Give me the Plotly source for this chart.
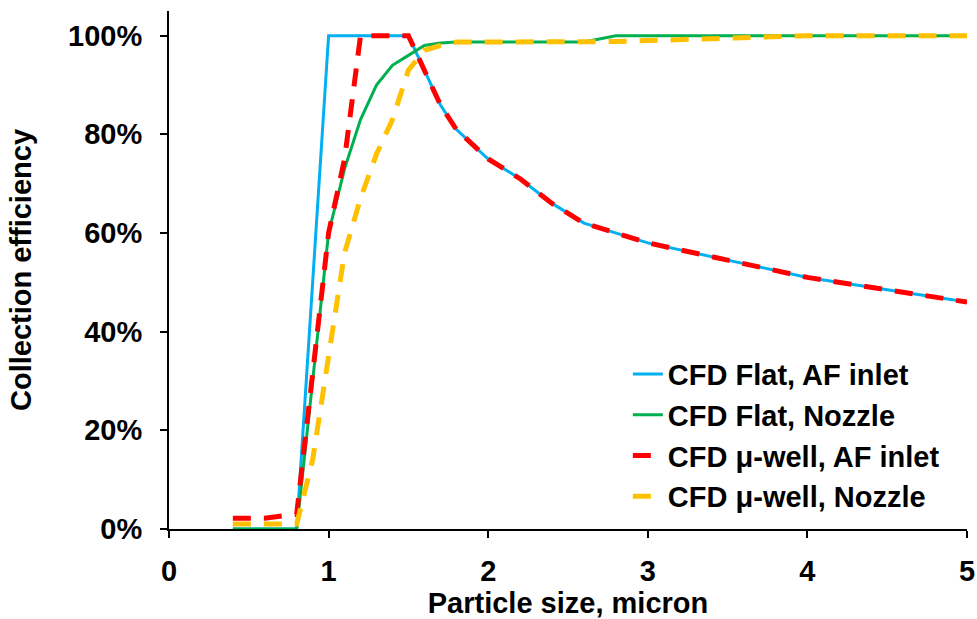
import plotly.graph_objects as go

# Particle size (micron)
x_size = [0.4, 0.6, 0.8, 0.9, 1.0, 1.1, 1.2, 1.3, 1.4, 1.5, 1.6, 1.7, 1.8,
          2.0, 2.2, 2.4, 2.6, 2.8, 3.0, 3.5, 4.0, 4.5, 5.0]

flat_af = [0, 0, 0, 0.50, 1.0, 1.0, 1.0, 1.0, 1.0, 1.0, 0.93, 0.86, 0.81,
           0.75, 0.71, 0.66, 0.62, 0.60, 0.58, 0.545, 0.51, 0.485, 0.46]
flat_nozzle = [0, 0, 0, 0.30, 0.60, 0.73, 0.83, 0.90, 0.94, 0.96, 0.98, 0.985, 0.987,
               0.987, 0.987, 0.987, 0.987, 1.0, 1.0, 1.0, 1.0, 1.0, 1.0]
well_af = [0.022, 0.022, 0.03, 0.315, 0.60, 0.75, 1.0, 1.0, 1.0, 1.0, 0.93, 0.86, 0.81,
           0.75, 0.71, 0.66, 0.62, 0.60, 0.58, 0.545, 0.51, 0.485, 0.46]
well_nozzle = [0.01, 0.01, 0.01, 0.14, 0.35, 0.56, 0.67, 0.76, 0.83, 0.93, 0.97, 0.98, 0.987,
               0.987, 0.987, 0.987, 0.987, 0.988, 0.99, 0.995, 1.0, 1.0, 1.0]

names = ["CFD Flat, AF inlet", "CFD Flat, Nozzle", "CFD μ-well, AF inlet", "CFD μ-well, Nozzle"]
colors = ["#00B0F0", "#00B050", "#FF0000", "#FFC000"]
series = [flat_af, flat_nozzle, well_af, well_nozzle]
widths = [3, 3, 5, 5]
dashes = ["solid", "solid", "18px,13px", "18px,13px"]

FONT = "Liberation Sans, Arial, sans-serif"

fig = go.Figure()
for i, (n, c, s, w, d) in enumerate(zip(names, colors, series, widths, dashes)):
    fig.add_trace(go.Scatter(
        x=x_size, y=s, mode="lines", name=n, legendgroup=f"g{i}",
        line=dict(color=c, width=w, dash=d),
    ))

fig.update_layout(
    width=977, height=619,
    margin=dict(l=169, r=10, t=11, b=90),
    paper_bgcolor="white", plot_bgcolor="white",
    font=dict(family=FONT, size=29, color="black", weight="bold"),
    showlegend=True,
    legend=dict(
        x=0.575, y=0.348, xanchor="left", yanchor="top",
        bgcolor="rgba(0,0,0,0)", traceorder="grouped", tracegroupgap=0,
        font=dict(family=FONT, size=29, color="black", weight="bold"),
    ),
    xaxis=dict(
        range=[0, 5], tickvals=[0, 1, 2, 3, 4, 5], automargin=False,
        showline=True, linecolor="black", linewidth=2,
        ticks="outside", ticklen=7, tickwidth=2, tickcolor="black",
        showgrid=False, zeroline=False, ticklabelstandoff=8,
        title=dict(text="Particle size, micron", standoff=2,
                   font=dict(family=FONT, size=29, color="black", weight="bold")),
    ),
    yaxis=dict(
        range=[0, 1.05], tickvals=[0, 0.2, 0.4, 0.6, 0.8, 1.0], tickformat=".0%",
        automargin=False,
        showline=True, linecolor="black", linewidth=2,
        ticks="outside", ticklen=7, tickwidth=2, tickcolor="black",
        showgrid=False, zeroline=False, ticklabelstandoff=12,
        title=dict(text="Collection efficiency", standoff=28,
                   font=dict(family=FONT, size=29, color="black", weight="bold")),
    ),
)

fig.write_html("out.html")
